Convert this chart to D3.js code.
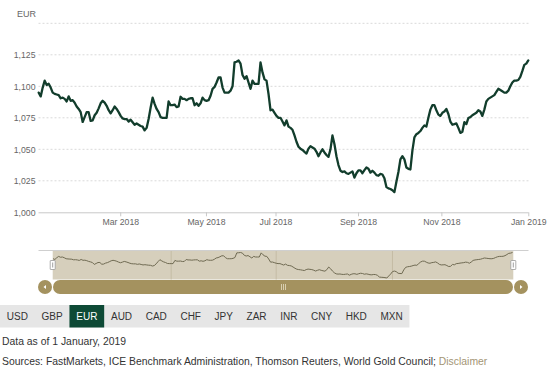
<!DOCTYPE html>
<html>
<head>
<meta charset="utf-8">
<script src="https://cdn.jsdelivr.net/npm/d3@7"></script>
<style>
  html, body { margin: 0; padding: 0; background: #fff; }
  svg { display: block; font-family: "Liberation Sans", Arial, sans-serif; }
</style>
</head>
<body>
<svg id="chart" width="550" height="373"></svg>
<script>
// ---- data (EUR gold price, one value per trading-day step) ----
const prices = [
  1095,1092,1099,1104.5,1101,1102,1099,1095,1094,1093.5,
  1093,1090.5,1091,1090,1088,1092,1088.5,1089,1087,1084,
  1082,1079.5,1071.7,1075.5,1079.5,1079.5,1072.5,1073,1077,1079,
  1082.5,1086.5,1088.5,1087,1084.5,1081,1078.5,1081,1084,1082,
  1079.5,1076.5,1074.5,1074,1074,1072,1073.5,1071.5,1069.5,1070.5,
  1069.5,1068.5,1068,1065,1067,1074,1083,1091,1086,1082,
  1079.5,1075.5,1075,1075,1075,1088,1085,1085,1085.5,1083.5,
  1084,1091.7,1090,1090,1089,1090,1090.5,1090.5,1085,1086.5,
  1084.5,1086.5,1091,1089,1088.5,1089,1092.5,1098,1099.5,1103,
  1107,1107,1099,1095,1095,1095,1096.5,1100,1119,1119.5,
  1120.5,1118,1109,1106,1108,1103,1098,1104.5,1102,1102,
  1102,1119,1111,1105.5,1104.5,1094,1081,1081.5,1079,1076.5,
  1075,1075,1072,1069,1073,1068,1067,1065.5,1061,1056,
  1052,1050.5,1049.5,1048,1046.6,1050.5,1052.5,1051.5,1050.5,1048,
  1044.5,1047.5,1050,1047.5,1045.5,1044,1050,1061,1054,1044.5,
  1037.5,1033,1032,1032.5,1031,1030.5,1031.5,1032.5,1027.5,1031,
  1033.3,1033.3,1031,1033.5,1035.5,1034.5,1031.5,1033,1031.5,1029.5,
  1029,1030.5,1030,1027,1020,1019,1018.5,1017.5,1016,1024.3,
  1032,1042,1044.5,1042,1035.5,1034.5,1034,1049,1059.5,1062,
  1063,1064.5,1067,1069,1068,1075,1081.5,1085,1085,1081,
  1077.5,1076.5,1079,1080,1082,1078,1072,1069.5,1070,1070.5,
  1067,1063,1064,1071.5,1070,1074.8,1075.5,1077,1078,1079,
  1081,1080,1076.5,1081.5,1088,1090,1091,1092,1093,1095.5,
  1098,1097,1096,1095,1095,1096.5,1100,1103,1104.5,1104.5,
  1105,1107.5,1112,1117,1118,1120.5
];
const xTickLabels = ["Mar 2018","May 2018","Jul 2018","Sep 2018","Nov 2018","Jan 2019"];
const xTickIndex  = [40.8, 83.7, 118.5, 159.8, 201.5, 245];
const yTicks      = [1000, 1025, 1050, 1075, 1100, 1125, 1150];
const yLabelTicks = [1000, 1025, 1050, 1075, 1100, 1125];
const navTickIndex = [63, 119, 181];
const currencies  = ["USD","GBP","EUR","AUD","CAD","CHF","JPY","ZAR","INR","CNY","HKD","MXN"];
const selectedCurrency = "EUR";
const axisTitle = "EUR";
const asOfText = "Data as of 1 January, 2019";
const sourcesText = "Sources: FastMarkets, ICE Benchmark Administration, Thomson Reuters, World Gold Council; ";
const disclaimerText = "Disclaimer";

// ---- drawing ----
const svg = d3.select("#chart");
const plot = { left: 38.5, right: 528.5, top: 23.3, bottom: 212.3 };
const axisFont = "8.7px";

const x = d3.scaleLinear().domain([0, prices.length - 1]).range([38.7, 528.3]);
const y = d3.scaleLinear().domain([1000, 1150]).range([plot.bottom, plot.top]);
const fmt = d3.format(",");

// grid lines
svg.append("g").selectAll("line").data(yTicks.filter(d => d !== 1000)).join("line")
  .attr("x1", plot.left).attr("x2", plot.right)
  .attr("y1", d => y(d)).attr("y2", d => y(d))
  .attr("stroke", "#d9d9d9").attr("stroke-width", 1)
  .attr("stroke-dasharray", "2,2");

// y-axis labels
const yAxis = d3.axisLeft(y).tickValues(yLabelTicks).tickFormat(fmt).tickSize(0).tickPadding(3);
const gy = svg.append("g").attr("transform", `translate(${plot.left},0)`).call(yAxis);
gy.select(".domain").remove();
gy.selectAll("text").attr("fill", "#666").style("font-size", axisFont)
  .style("font-family", "'Liberation Sans', Arial, sans-serif");

// axis title
svg.append("text").attr("x", 17).attr("y", 17).text(axisTitle)
  .attr("fill", "#666").style("font-size", "9px");

// x axis
const xAxis = d3.axisBottom(x).tickValues(xTickIndex)
  .tickFormat((d, i) => xTickLabels[i]).tickSize(4).tickSizeOuter(0).tickPadding(3);
const gx = svg.append("g").attr("transform", `translate(0,${plot.bottom})`).call(xAxis);
gx.select(".domain").attr("d", `M${plot.left},0.5H${plot.right}`).attr("stroke", "#c8c8c8");
gx.selectAll(".tick line").attr("stroke", "#c8c8c8");
gx.selectAll("text").attr("fill", "#666").style("font-size", axisFont)
  .style("font-family", "'Liberation Sans', Arial, sans-serif");

// main line
const line = d3.line().x((d, i) => x(i)).y(d => y(d)).curve(d3.curveLinear);
svg.append("path").datum(prices).attr("d", line)
  .attr("fill", "none").attr("stroke", "#123d2c").attr("stroke-width", 2.3)
  .attr("stroke-linejoin", "round").attr("stroke-linecap", "round");

// ---- navigator ----
const nav = { left: 38.5, right: 528.5, top: 250, bottom: 279.5, selL: 52.7, selR: 513.3 };
const nx = d3.scaleLinear().domain([0, prices.length - 1]).range([53, 512.5]);
const ny = d3.scaleLinear().domain(d3.extent(prices)).range([278, 252.5]);

svg.append("rect").attr("x", nav.selL).attr("y", nav.top)
  .attr("width", nav.selR - nav.selL).attr("height", nav.bottom - nav.top)
  .attr("fill", "#d6cfbc");
svg.append("g").selectAll("line").data(navTickIndex).join("line")
  .attr("x1", d => nx(d)).attr("x2", d => nx(d))
  .attr("y1", nav.top).attr("y2", nav.bottom)
  .attr("stroke", "#c4bca5").attr("stroke-width", 1);
svg.append("line").attr("x1", nav.left).attr("x2", nav.right)
  .attr("y1", nav.top + 0.5).attr("y2", nav.top + 0.5).attr("stroke", "#cfcfcf");
const navLine = d3.line().x((d, i) => nx(i)).y(d => ny(d));
svg.append("path").datum(prices).attr("d", navLine)
  .attr("fill", "none").attr("stroke", "#6f6a52").attr("stroke-width", 1);

// handles
[nav.selL, nav.selR].forEach(hx => {
  svg.append("rect").attr("x", hx - 2.5).attr("y", 260.5).attr("width", 5).attr("height", 9)
    .attr("fill", "#fff").attr("stroke", "#999").attr("stroke-width", 0.8).attr("rx", 0.5);
  svg.append("line").attr("x1", hx).attr("x2", hx).attr("y1", 262.5).attr("y2", 267.5)
    .attr("stroke", "#888").attr("stroke-width", 0.8);
});

// scrollbar
const sbY = 287, sbR = 7, sbColor = "#a4925f";
svg.append("rect").attr("x", 53).attr("y", sbY - sbR).attr("width", 513 - 53)
  .attr("height", sbR * 2).attr("rx", sbR).attr("fill", sbColor);
[45, 521].forEach((cx, i) => {
  svg.append("circle").attr("cx", cx).attr("cy", sbY).attr("r", sbR).attr("fill", sbColor);
  const dir = i === 0 ? -1 : 1;
  svg.append("path")
    .attr("d", `M${cx + dir * 1.5},${sbY}L${cx - dir * 1},${sbY - 2}L${cx - dir * 1},${sbY + 2}Z`)
    .attr("fill", "#fff");
});
const gripX = (53 + 513) / 2;
[-2, 0, 2].forEach(o => {
  svg.append("line").attr("x1", gripX + o + 0.5).attr("x2", gripX + o + 0.5)
    .attr("y1", sbY - 3).attr("y2", sbY + 3).attr("stroke", "#d8ceb0").attr("stroke-width", 1);
});

// ---- currency buttons ----
const btnTop = 305, btnH = 22.5, pad = 6.8;
const btnG = svg.append("g");
const bg = btnG.append("rect").attr("x", 0).attr("y", btnTop).attr("height", btnH).attr("fill", "#e6e6e6");
let cx = 0;
const temp = btnG.append("text").style("font-size", "10px");
currencies.forEach(c => {
  temp.text(c);
  const w = temp.node().getComputedTextLength() + pad * 2;
  const sel = c === selectedCurrency;
  if (sel) {
    btnG.append("rect").attr("x", cx).attr("y", btnTop).attr("width", w).attr("height", btnH)
      .attr("fill", "#0e4a36");
  }
  btnG.append("text").attr("x", cx + w / 2).attr("y", btnTop + 15)
    .attr("text-anchor", "middle").style("font-size", "10px")
    .attr("fill", sel ? "#fff" : "#333").text(c);
  cx += w;
});
temp.remove();
bg.attr("width", cx);

// ---- footer ----
svg.append("text").attr("x", 2).attr("y", 345).style("font-size", "10.4px")
  .attr("fill", "#333").text(asOfText);
const src = svg.append("text").attr("x", 2).attr("y", 365).style("font-size", "10.4px").attr("fill", "#333");
src.append("tspan").text(sourcesText);
src.append("tspan").attr("fill", "#a39575").text(disclaimerText);
</script>
</body>
</html>
